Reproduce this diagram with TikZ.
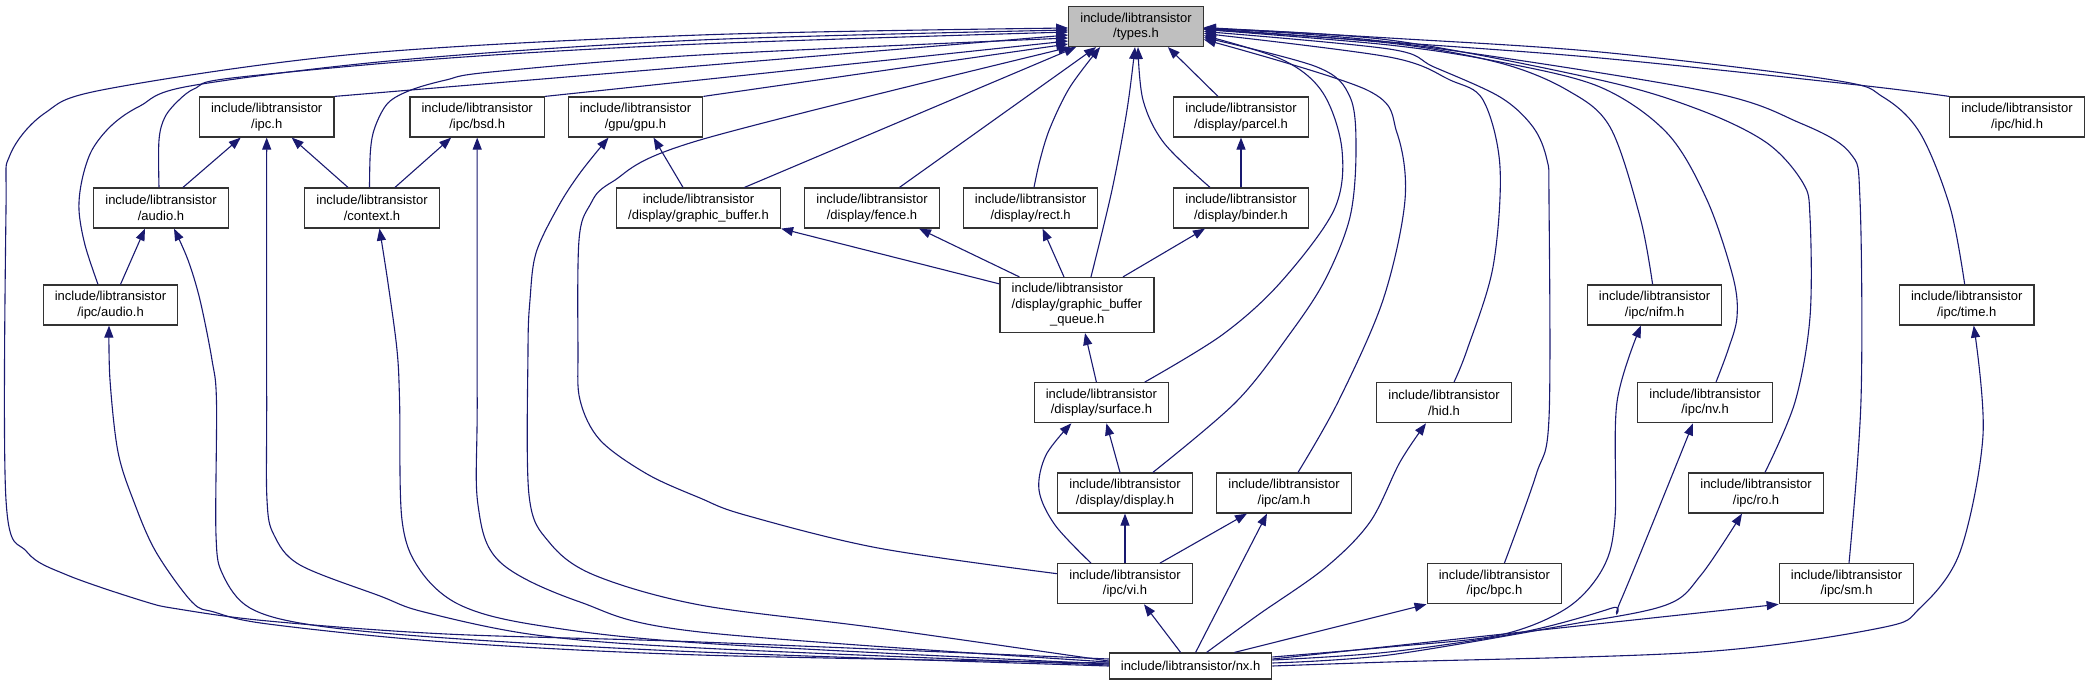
\documentclass[tikz,border=0pt]{standalone}
\usepackage{fontspec}
\setmainfont{Liberation Sans}
\usetikzlibrary{arrows.meta,calc}
\definecolor{edgeblue}{HTML}{191970}
\definecolor{rootgray}{HTML}{BFBFBF}
\newcommand\dxfont{\fontsize{13}{15.4}\selectfont}
\begin{document}
\begin{tikzpicture}[x=1pt,y=-1pt,
  box/.style={draw=black!80,line width=1.2pt,fill=white,minimum width=134.5pt,minimum height=40pt,inner sep=0pt,align=center,font=\dxfont},
  edge/.style={draw=edgeblue,line width=1.1pt,-{Triangle[length=12pt,width=9pt]}},
  spl/.style={smooth,tension=0.55}]
\useasboundingbox (0,0) rectangle (2089,685);
% nodes
\node[box,fill=rootgray] (types) at (1136,26.5) {include/libtransistor\\/types.h};
\node[box] (ipch) at (266.7,117) {include/libtransistor\\/ipc.h};
\node[box] (bsd) at (477.2,117) {include/libtransistor\\/ipc/bsd.h};
\node[box] (gpu) at (635.5,117) {include/libtransistor\\/gpu/gpu.h};
\node[box] (parcel) at (1241,117) {include/libtransistor\\/display/parcel.h};
\node[box] (ipchid) at (2017,117) {include/libtransistor\\/ipc/hid.h};
\node[box] (audio) at (161,208) {include/libtransistor\\/audio.h};
\node[box] (context) at (372,208) {include/libtransistor\\/context.h};
\node[box,minimum width=164pt] (gbuf) at (698.5,208) {include/libtransistor\\/display/graphic\_buffer.h};
\node[box] (fence) at (872,208) {include/libtransistor\\/display/fence.h};
\node[box] (rect) at (1030.6,208) {include/libtransistor\\/display/rect.h};
\node[box] (binder) at (1241,208) {include/libtransistor\\/display/binder.h};
\node[box] (iaudio) at (110.5,305) {include/libtransistor\\/ipc/audio.h};
\node[box,minimum width=154pt,minimum height=55pt,align=left] (gbq) at (1077,305) {include/libtransistor\\/display/graphic\_buffer\\\hspace*{38.5pt}\_queue.h};
\node[box] (nifm) at (1654.6,305) {include/libtransistor\\/ipc/nifm.h};
\node[box] (time) at (1966.7,305) {include/libtransistor\\/ipc/time.h};
\node[box] (surface) at (1101.4,402.7) {include/libtransistor\\/display/surface.h};
\node[box] (hid) at (1444,402.7) {include/libtransistor\\/hid.h};
\node[box] (nv) at (1705,402.7) {include/libtransistor\\/ipc/nv.h};
\node[box] (display) at (1125,493) {include/libtransistor\\/display/display.h};
\node[box] (am) at (1284,493) {include/libtransistor\\/ipc/am.h};
\node[box] (ro) at (1756,493) {include/libtransistor\\/ipc/ro.h};
\node[box] (vi) at (1125,583.7) {include/libtransistor\\/ipc/vi.h};
\node[box] (bpc) at (1494.4,583.7) {include/libtransistor\\/ipc/bpc.h};
\node[box] (sm) at (1846.5,583.7) {include/libtransistor\\/ipc/sm.h};
\node[box,minimum width=162.5pt,minimum height=26pt] (nx) at (1190.6,666) {include/libtransistor/nx.h};

% ---- edges into types.h from the left
\draw[edge] plot[spl] coordinates {($(nx.west)+(0,-7)$) (700,642) (446,634) (268,621) (178,609) (143,601) (67,575) (27,552) (6,500) (6,210) (10,155) (45,113) (107,89) (357,54) (700,35) ($(types.west)+(0,1.5)$)};
\draw[edge] plot[spl] coordinates {($(iaudio.north)+(-12.5,0)$) (85,245) (79,210) (82,180) (92,150) (112,125) (140,106) (190,86) (400,60) (700,40) ($(types.west)+(0,3.5)$)};
\draw[edge] plot[spl] coordinates {($(audio.north)+(-2,0)$) (159,140) (165,117) (179,100) (196,88) (232,78) (450,58) (700,44) ($(types.west)+(0,5.5)$)};
\draw[edge] (ipch.north east) -- ($(types.west)+(0,8.5)$);
\draw[edge] plot[spl] coordinates {($(context.north)+(-2.5,0)$) (370.5,150) (375,127) (388,103) (411,90) (446,80) (491,72) (700,55) ($(types.west)+(0,11.5)$)};
\draw[edge] (bsd.north east) -- ($(types.west)+(0,14.5)$);
\draw[edge] (gpu.north east) -- ($(types.west)+(0,17.5)$);
\draw[edge] plot[spl] coordinates {($(vi.west)+(0,-10)$) (878,548) (745,515) (700,498) (647,474) (600,440) (580,400) (578,350) (579,240) (590,205) (612,182) (700,140) ($(types.south west)+(2,0)$)};
\draw[edge] ($(gbuf.north)+(46,0)$) -- ($(types.south west)+(8,0)$);
\draw[edge] ($(fence.north)+(27.5,0)$) -- ($(types.south west)+(28,0)$);
\draw[edge] plot[spl] coordinates {($(rect.north)+(3.4,0)$) (1040,160) (1050,128) (1070,87) ($(types.south west)+(32,0)$)};
\draw[edge] plot[spl] coordinates {($(gbq.north)+(14,0)$) (1112,190) (1127,110) ($(types.south)+(-1,0)$)};
\draw[edge] plot[spl] coordinates {($(binder.north)+(-31,0)$) (1164,143) (1143,100) ($(types.south)+(2,0)$)};
\draw[edge] ($(parcel.north)+(-23,0)$) -- ($(types.south east)+(-36,0)$);

% ---- edges into types.h from the right
\draw[edge] plot[spl] coordinates {($(surface.north east)+(-24.5,0)$) (1222,335) (1280,283) (1334,210) (1342,150) (1323,93) (1283,60) ($(types.east)+(0,9)$)};
\draw[edge] plot[spl] coordinates {($(display.north east)+(-40,0)$) (1236,402) (1289,335) (1325,280) (1350,217) (1356,150) (1350,97) (1317,67) ($(types.east)+(0,11)$)};
\draw[edge] plot[spl] coordinates {($(am.north)+(14,0)$) (1338,402) (1383,300) (1405,200) (1397,133) (1367,90) ($(types.east)+(0,13)$)};
\draw[edge] plot[spl] coordinates {($(hid.north)+(10,0)$) (1467,350) (1493,267) (1500,167) (1483,100) (1450,80) (1389,57) ($(types.east)+(0,7)$)};
\draw[edge] plot[spl] coordinates {($(bpc.north)+(10,0)$) (1536,475) (1549,418) (1549,200) (1547,160) (1533,127) (1500,97) (1434,67) (1389,49) ($(types.east)+(0,5)$)};
\draw[edge] plot[spl] coordinates {($(nifm.north)+(-2,0)$) (1640,217) (1610,127) (1567,90) (1500,63) (1389,43) ($(types.east)+(0,3)$)};
\draw[edge] plot[spl] coordinates {($(nv.north)+(11,0)$) (1728,350) (1737,317) (1733,277) (1707,200) (1667,133) (1600,87) (1500,62) (1389,45) ($(types.east)+(0,3)$)};
\draw[edge] plot[spl] coordinates {($(ro.north)+(9,0)$) (1795,402) (1810,317) (1810,217) (1803,183) (1767,143) (1700,110) (1600,80) (1389,40) ($(types.east)+(0,2)$)};
\draw[edge] plot[spl] coordinates {($(sm.north)+(2.5,0)$) (1861,400) (1860,200) (1850,153) (1800,123) (1700,90) (1389,42) ($(types.east)+(0,2)$)};
\draw[edge] plot[spl] coordinates {($(time.north)+(-2,0)$) (1950,207) (1920,133) (1883,97) (1833,80) (1600,52) (1389,38) ($(types.east)+(0,1)$)};
\draw[edge] plot[spl] coordinates {(ipchid.north west) (1858,85) (1600,58) (1389,42) ($(types.east)+(0,2)$)};

% ---- edges out of nx.h
\draw[edge] plot[spl] coordinates {($(nx.west)+(0,-3)$) (700,655) (446,642) (268,624) (214,612) (192,602) (156,552) (134,502) (118,452) (110,380) ($(iaudio.south)+(-1.5,0)$)};
\draw[edge] plot[spl] coordinates {(nx.west) (700,652) (446,638) (312,625) (250,608) (223,575) (216,535) (216.5,402) (212,360) (200,300) (188,260) ($(audio.south)+(13,0)$)};
\draw[edge] plot[spl] coordinates {($(nx.west)+(0,-1)$) (700,648) (536,635) (424,612) (380,596) (300,565) (274,535) (267,500) (266.7,400) (ipch.south)};
\draw[edge] plot[spl] coordinates {($(nx.west)+(0,-2)$) (700,643) (536,625) (460,605) (420,570) (402,520) (399.6,402) (397,350) (388,283) ($(context.south)+(7.5,0)$)};
\draw[edge] plot[spl] coordinates {($(nx.west)+(0,-4)$) (700,632) (580,602) (500,562) (478,505) (477.2,400) (bsd.south)};
\draw[edge] plot[spl] coordinates {($(nx.west)+(0,-5)$) (878,628) (700,605) (594,575) (549,542) (529,495) (528,350) (530,300) (536,253) (558,207) (580,173) ($(gpu.south)+(-27,0)$)};
\draw[edge] ($(nx.north)+(-10,0)$) -- ($(vi.south)+(19,0)$);
\draw[edge] ($(nx.north)+(5,0)$) -- ($(am.south)+(-17,0)$);
\draw[edge] plot[spl] coordinates {($(nx.north)+(16,0)$) (1258,615) (1325,568) (1370,522) (1400,462) ($(hid.south)+(-18,0)$)};
\draw[edge] ($(nx.north east)+(-38,0)$) -- (bpc.south west);
\draw[edge] plot[spl] coordinates {($(nx.east)+(0,-9)$) (1389,647) (1500,635) (1567,608) (1603,568) (1615,518) (1617,402) ($(nifm.south)+(-13.6,0)$)};
\draw[edge] plot[spl] coordinates {($(nx.east)+(0,-6)$) (1389,652) (1523,632) (1612,608) (1621,600) ($(nv.south)+(-12,0)$)};
\draw[edge] plot[spl] coordinates {($(nx.east)+(0,-3)$) (1389,655) (1567,625) (1666,605) (1701,575) ($(ro.south)+(-14,0)$)};
\draw[edge] ($(nx.east)+(0,-7)$) -- (sm.south west);
\draw[edge] plot[spl] coordinates {(nx.east) (1389,662) (1701,652) (1880,628) (1920,608) (1960,552) (1983,435) ($(time.south)+(7,0)$)};

% ---- middle edges
\draw[edge] ($(audio.north)+(22,0)$) -- ($(ipch.south)+(-26,0)$);
\draw[edge] ($(context.north)+(-24,0)$) -- ($(ipch.south)+(25,0)$);
\draw[edge] ($(context.north)+(23,0)$) -- ($(bsd.south)+(-26,0)$);
\draw[edge] ($(iaudio.north)+(10,0)$) -- ($(audio.south)+(-16,0)$);
\draw[edge] ($(gbuf.north)+(-15.5,0)$) -- ($(gpu.south)+(18,0)$);
\draw[edge] ($(gbq.north west)+(0,7)$) -- (gbuf.south east);
\draw[edge] ($(gbq.north west)+(20,0)$) -- ($(fence.south)+(47,0)$);
\draw[edge] ($(gbq.north)+(-13,0)$) -- ($(rect.south)+(12,0)$);
\draw[edge] ($(gbq.north)+(46,0)$) -- ($(binder.south)+(-36,0)$);
\draw[edge] (binder.north) -- (parcel.south);
\draw[edge] ($(surface.north)+(-5,0)$) -- ($(gbq.south)+(8,0)$);
\draw[edge] ($(display.north)+(-5,0)$) -- ($(surface.south)+(5,0)$);
\draw[edge] plot[spl] coordinates {($(vi.north)+(-34,0)$) (1055,525) (1039,490) (1046,455) ($(surface.south)+(-30,0)$)};
\draw[edge] (vi.north) -- (display.south);
\draw[edge] ($(vi.north)+(35,0)$) -- ($(am.south)+(-37,0)$);
\end{tikzpicture}
\end{document}
